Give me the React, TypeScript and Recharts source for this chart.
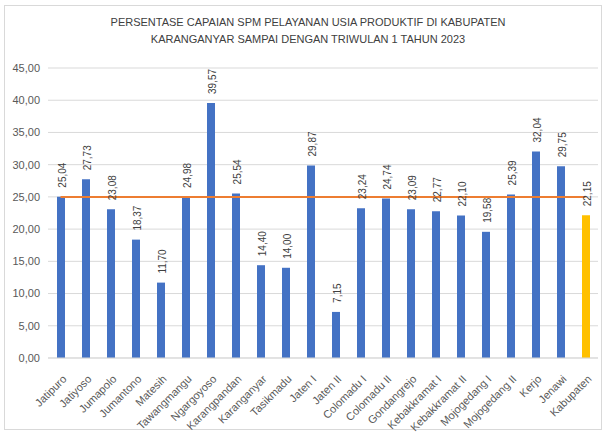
import React from 'react';
import { Bar, Line, XAxis, YAxis, CartesianGrid, Cell, LabelList, ComposedChart } from 'recharts';

const TITLE_LINE_1 = 'PERSENTASE CAPAIAN SPM PELAYANAN USIA PRODUKTIF DI KABUPATEN';
const TITLE_LINE_2 = 'KARANGANYAR SAMPAI DENGAN TRIWULAN 1 TAHUN 2023';

const categories = [
  'Jatipuro', 'Jatiyoso', 'Jumapolo', 'Jumantono', 'Matesih', 'Tawangmangu', 'Ngargoyoso',
  'Karangpandan', 'Karanganyar', 'Tasikmadu', 'Jaten I', 'Jaten II', 'Colomadu I', 'Colomadu II',
  'Gondangrejo', 'Kebakkramat I', 'Kebakkramat II', 'Mojogedang I', 'Mojogedang II', 'Kerjo',
  'Jenawi', 'Kabupaten',
];
const values = [
  25.04, 27.73, 23.08, 18.37, 11.7, 24.98, 39.57, 25.54, 14.4, 14.0, 29.87, 7.15, 23.24, 24.74,
  23.09, 22.77, 22.1, 19.58, 25.39, 32.04, 29.75, 22.15,
];
const TARGET = 25;
const yTicks = [0, 5, 10, 15, 20, 25, 30, 35, 40, 45];

const data = categories.map((name, i) => ({ name, value: values[i], target: TARGET }));

const BLUE = '#4472C4';
const GOLD = '#FFC000';
const ORANGE = '#ED7D31';
const TEXT = '#595959';
const FONT = '"Liberation Sans", Arial, sans-serif';

const fmt = (v: number) => v.toFixed(2).replace('.', ',');

const XTick = (props: any) => {
  const { x, y, payload } = props;
  return (
    <text
      transform={`translate(${x + 4},${y + 11}) rotate(-45)`}
      textAnchor="end"
      dy="0.35em"
      fontSize={11}
      fontFamily={FONT}
      fill={TEXT}
    >
      {payload.value}
    </text>
  );
};

const ValueLabel = (props: any) => {
  const { x, y, width, value } = props;
  const cx = x + width / 2 + 1;
  const cy = y - 9;
  return (
    <text
      transform={`translate(${cx},${cy}) rotate(-90)`}
      textAnchor="start"
      dy="0.35em"
      fontSize={10}
      fontFamily={FONT}
      fill="#404040"
    >
      {fmt(value)}
    </text>
  );
};

export default function App() {
  return (
    <div style={{ position: 'absolute', left: 0, top: 0, width: 606, height: 435, background: '#fff' }}>
      <div
        style={{
          position: 'absolute', left: 4, top: 5, width: 598, height: 425,
          border: '1px solid #d9d9d9', boxSizing: 'border-box',
        }}
      />
      <div
        style={{
          position: 'absolute', left: 0, top: 14, width: 616, textAlign: 'center',
          fontFamily: FONT, fontSize: 11, color: '#404040', lineHeight: '17px', whiteSpace: 'nowrap',
        }}
      >
        <div>{TITLE_LINE_1}</div>
        <div>{TITLE_LINE_2}</div>
      </div>
      <div style={{ position: 'absolute', left: 0, top: 0 }}>
        <ComposedChart
          width={606}
          height={435}
          data={data}
          margin={{ top: 68, right: 8, bottom: 0, left: 0 }}
        >
          <CartesianGrid vertical={false} stroke="#d9d9d9" />
          <XAxis
            dataKey="name"
            interval={0}
            tick={<XTick />}
            tickLine={false}
            axisLine={{ stroke: '#d9d9d9' }}
            height={77}
          />
          <YAxis
            domain={[0, 45]}
            ticks={yTicks}
            tickFormatter={fmt}
            width={48}
            tickLine={false}
            axisLine={false}
            tick={{ fontSize: 11, fontFamily: FONT, fill: TEXT }}
            interval={0}
          />
          <Bar dataKey="value" barSize={8} isAnimationActive={false}>
            {data.map((d, i) => (
              <Cell key={i} fill={d.name === 'Kabupaten' ? GOLD : BLUE} />
            ))}
            <LabelList dataKey="value" content={<ValueLabel />} />
          </Bar>
          <Line
            dataKey="target"
            stroke={ORANGE}
            strokeWidth={2}
            dot={false}
            isAnimationActive={false}
          />
        </ComposedChart>
      </div>
    </div>
  );
}
